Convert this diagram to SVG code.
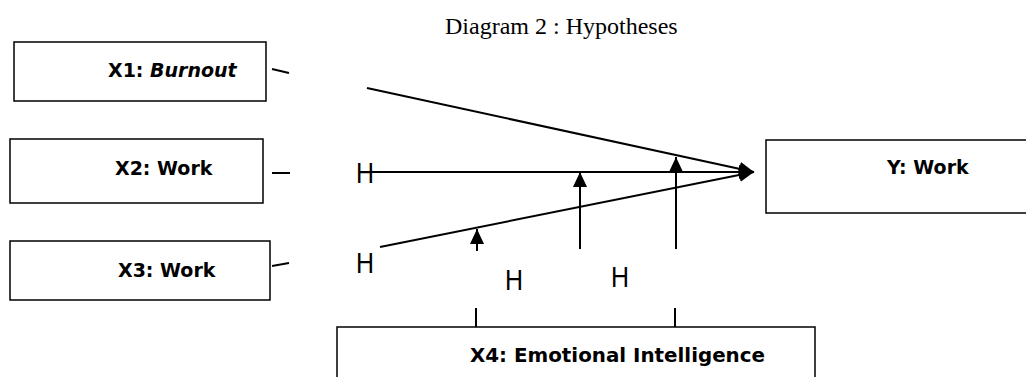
<svg xmlns="http://www.w3.org/2000/svg" width="1026" height="377" viewBox="0 0 1026 377">
<defs>
<style>
.box{fill:#fff;stroke:#000;stroke-width:1.5}
.lbl{font-family:"DejaVu Sans",sans-serif;font-weight:bold;font-size:19px;fill:#000}
.h{font-family:"Liberation Sans",Arial,sans-serif;font-size:29px;fill:#000}
.ln{stroke:#000;stroke-width:2;fill:none}
.arr{stroke:#000;stroke-width:2;fill:none;marker-end:url(#ah)}
</style>
<marker id="ah" markerUnits="userSpaceOnUse" markerWidth="16" markerHeight="15" refX="15" refY="7" orient="auto" viewBox="0 0 16 15">
<path d="M0,0 L15,7 L0,14 z" fill="#000"/>
</marker>
</defs>
<rect width="1026" height="377" fill="#fff"/>
<text x="445" y="34" font-family="Liberation Serif,'Times New Roman',serif" font-size="24">Diagram 2 : Hypotheses</text>
<g id="x1"><rect class="box" x="14" y="42" width="252" height="59"/><text class="lbl" x="108" y="77">X1: <tspan font-style="italic">Burnout</tspan></text></g>
<g id="x2"><rect class="box" x="10" y="139" width="253" height="64"/><text class="lbl" x="115" y="175">X2: Work</text></g>
<g id="x3"><rect class="box" x="10" y="241" width="260" height="59"/><text class="lbl" x="118" y="277">X3: Work</text></g>
<g id="y"><rect class="box" x="766" y="140" width="265" height="73"/><text class="lbl" x="887" y="174">Y: Work</text></g>
<g id="x4"><rect class="box" x="337" y="327" width="478" height="60"/><text class="lbl" x="470" y="362" textLength="295" lengthAdjust="spacingAndGlyphs">X4: Emotional Intelligence</text></g>
<g id="labels">
<text class="h" x="356" y="183" textLength="18" lengthAdjust="spacingAndGlyphs">H</text>
<text class="h" x="356" y="273" textLength="18" lengthAdjust="spacingAndGlyphs">H</text>
<text class="h" x="505" y="290" textLength="18" lengthAdjust="spacingAndGlyphs">H</text>
<text class="h" x="611" y="287" textLength="18" lengthAdjust="spacingAndGlyphs">H</text>
</g>
<g id="connectors">
<line class="ln" x1="272" y1="69" x2="289" y2="73"/>
<line class="ln" x1="272" y1="173" x2="290" y2="173"/>
<line class="ln" x1="272" y1="266" x2="289" y2="263"/>
<line class="arr" x1="367" y1="88" x2="754" y2="172"/>
<line class="arr" x1="366" y1="172" x2="754" y2="172"/>
<line class="arr" x1="380" y1="247" x2="754" y2="172"/>
<line class="arr" x1="477" y1="251" x2="477" y2="229"/>
<line class="arr" x1="580" y1="249" x2="580" y2="172"/>
<line class="arr" x1="676" y1="249" x2="676" y2="157"/>
<line class="ln" x1="476" y1="308" x2="476" y2="327"/>
<line class="ln" x1="675" y1="308" x2="675" y2="327"/>
</g>
</svg>
